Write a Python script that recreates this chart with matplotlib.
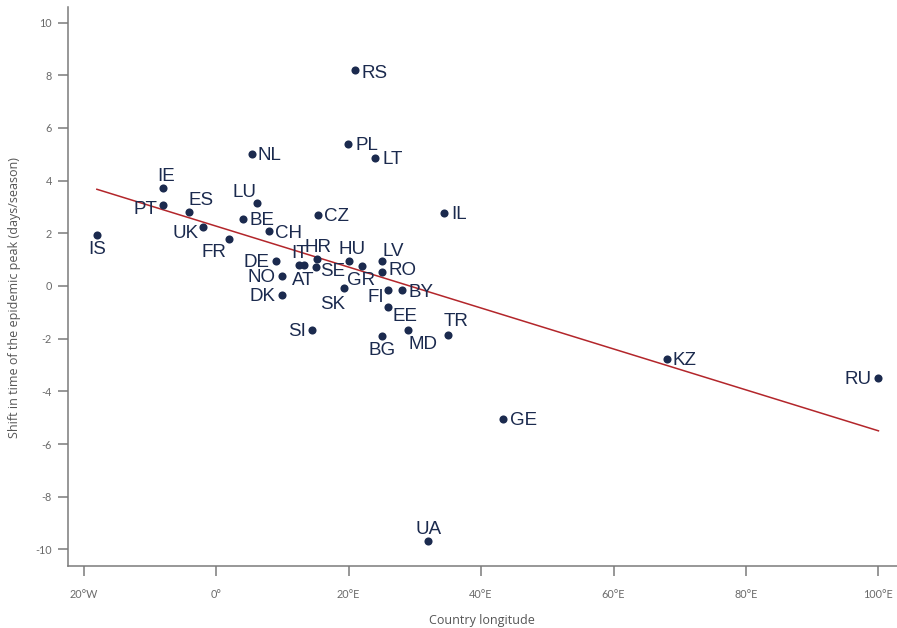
import matplotlib
matplotlib.use("Agg")
import matplotlib.pyplot as plt
from matplotlib.ticker import FixedLocator

# country codes, longitude (deg E) and shift of epidemic peak (days/season)
countries = ["IS", "IE", "PT", "ES", "UK", "FR", "NL", "LU", "BE", "CH",
             "DE", "NO", "DK", "IT", "AT", "HR", "SE", "CZ", "SI", "HU",
             "SK", "RS", "PL", "GR", "LV", "RO", "BG", "LT", "FI", "EE",
             "BY", "MD", "UA", "IL", "TR", "GE", "KZ", "RU"]
longitude = [-18.0, -7.95, -7.95, -4.03, -2.01, 2.01, 5.39, 6.14, 4.03, 8.05,
             9.06, 9.97, 9.97, 12.53, 13.24, 15.30, 15.05, 15.36, 14.54, 20.04,
             19.33, 20.99, 19.98, 22.04, 25.06, 25.06, 25.06, 24.0, 26.02, 26.02,
             28.04, 29.04, 32.06, 34.43, 35.03, 43.38, 68.05, 100.0]
shift = [1.92, 3.70, 3.08, 2.80, 2.25, 1.78, 5.01, 3.15, 2.56, 2.10,
         0.95, 0.37, -0.35, 0.80, 0.80, 1.04, 0.71, 2.70, -1.68, 0.96,
         -0.09, 8.18, 5.40, 0.76, 0.95, 0.53, -1.90, 4.87, -0.14, -0.81,
         -0.14, -1.68, -9.67, 2.77, -1.85, -5.06, -2.78, -3.51]

# fitted trend line (end points)
fit_lon = [-18.0, 100.0]
fit_shift = [3.67, -5.50]

xticks = [-20, 0, 20, 40, 60, 80, 100]
xtick_labels = ["20°W", "0°", "20°E", "40°E", "60°E", "80°E", "100°E"]
yticks = [-10, -8, -6, -4, -2, 0, 2, 4, 6, 8, 10]

# label placement: (dx px, dy px, ha)
label_pos = {
    "RS": (6, -1.5, "left"), "PL": (7, 0, "left"), "LT": (7, 0, "left"),
    "NL": (6, 0, "left"), "CZ": (6.5, 0, "left"), "IL": (7.5, 0, "left"),
    "BE": (7, 0, "left"), "CH": (6, -1.5, "left"), "KZ": (6, 0, "left"),
    "GE": (6.5, 0, "left"), "SE": (4, -3, "left"), "RO": (6, 3, "left"),
    "BY": (6.5, -1, "left"),
    "PT": (-6, -2.7, "right"), "UK": (-4.4, -5, "right"), "DE": (-6.7, 0, "right"),
    "NO": (-7, 0, "right"), "DK": (-7, 0, "right"), "SI": (-6, 0, "right"),
    "RU": (-6.7, 0, "right"), "FR": (-3.3, -11.7, "right"),
    "IE": (2.7, 13, "center"), "IS": (0, -13, "center"), "ES": (12, 13, "center"),
    "LU": (-12.7, 12, "center"), "IT": (0, 13.3, "center"), "HR": (1, 13, "center"),
    "HU": (3.3, 12.4, "center"), "LV": (11, 11, "center"), "TR": (7.5, 14.7, "center"),
    "UA": (0, 12.4, "center"), "AT": (-1, -14.3, "center"), "GR": (-0.8, -13.3, "center"),
    "SK": (-11.5, -15, "center"), "FI": (-12.5, -6.3, "center"), "EE": (17, -7.7, "center"),
    "BG": (0, -13.3, "center"), "MD": (15, -13, "center"),
}

navy = "#1b2a4e"
grey = "#7a7a7a"

fig = plt.figure(figsize=(8.97, 6.28), dpi=100)
ax = fig.add_axes([0.0755, 0.0992, 0.9245, 0.8901])

ax.plot(fit_lon, fit_shift, color="#b3262b", lw=1.1, zorder=2)
ax.scatter(longitude, shift, s=34, color=navy, zorder=3, linewidths=0)

for code, lon, val in zip(countries, longitude, shift):
    dx, dy, ha = label_pos[code]
    ax.annotate(code, (lon, val), xytext=(dx, dy - 1.5), textcoords="offset pixels",
                ha=ha, va="center", fontsize=13.5, color=navy,
                family="Liberation Sans", zorder=4)

ax.set_xlim(-22.4, 102.8)
ax.set_ylim(-10.62, 10.6)
ax.xaxis.set_major_locator(FixedLocator(xticks))
ax.set_xticklabels(xtick_labels)
ax.yaxis.set_major_locator(FixedLocator(yticks))
ax.set_yticklabels([str(t) for t in yticks])

for side in ["top", "right"]:
    ax.spines[side].set_visible(False)
for side in ["left", "bottom"]:
    ax.spines[side].set_color(grey)
    ax.spines[side].set_linewidth(1.1)

ax.tick_params(axis="both", direction="out", length=7.5, width=1.1, color=grey,
               labelcolor="#6a6a6a", labelsize=7.8)
ax.tick_params(axis="x", pad=9)
ax.tick_params(axis="y", pad=4)
for lbl in ax.get_xticklabels() + ax.get_yticklabels():
    lbl.set_family("Lato")

ax.set_xlabel("Country longitude", fontsize=9, color="#555555", family="Open Sans", labelpad=10)
ax.set_ylabel("Shift in time of the epidemic peak (days/season)", fontsize=9,
              color="#555555", family="Open Sans")
ax.yaxis.set_label_coords(-0.056, 0.48)

fig.savefig("out.png", dpi=100)
